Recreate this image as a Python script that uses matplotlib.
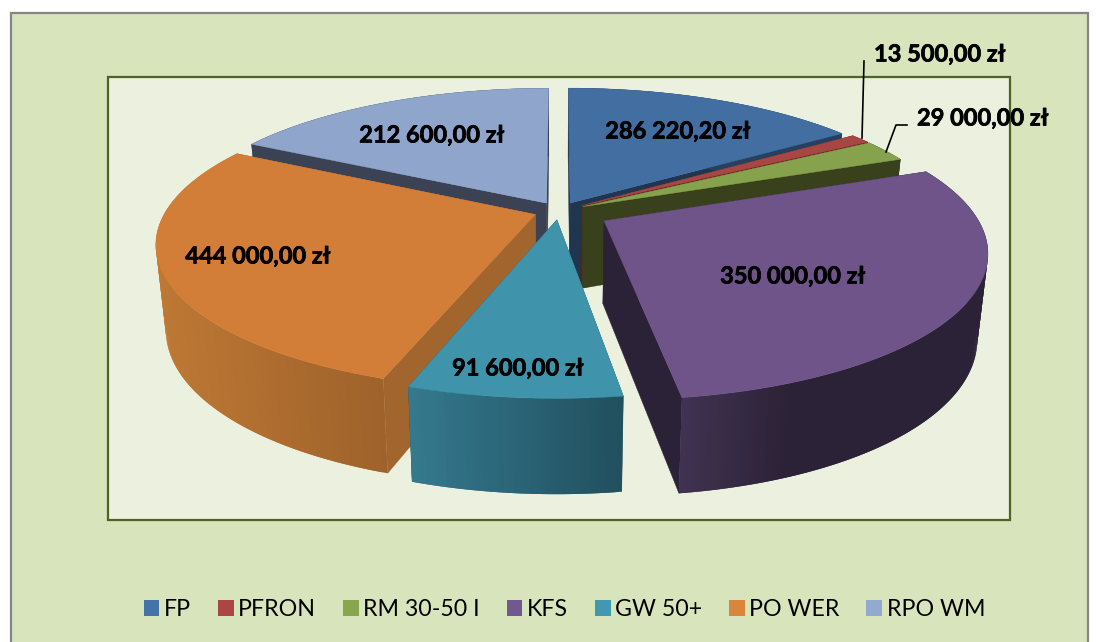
import numpy as np
import matplotlib
matplotlib.use("Agg")
import matplotlib.pyplot as plt
import matplotlib.patheffects as pe
from matplotlib.patches import Polygon, Rectangle
from matplotlib.colors import to_rgb

categories = ["FP", "PFRON", "RM 30-50 I", "KFS", "GW 50+", "PO WER", "RPO WM"]
amount_labels = ["286 220,20 zł", "13 500,00 zł", "29 000,00 zł", "350 000,00 zł",
                 "91 600,00 zł", "444 000,00 zł", "212 600,00 zł"]
# Angular sweep of each slice (degrees)
sweep_deg = [55.8, 3.8, 8.9, 103.2, 27.1, 99.2, 62.0]
explode = [0.065, 0.072, 0.072, 0.139, 0.063, 0.0685, 0.066]

top_colors = ["#426EA2", "#A84644", "#87A24C", "#6E5489", "#3F94AB", "#D37E38", "#8FA5CC"]
wall_colors = ["#1F3550", "#5A2020", "#39401C", "#2C2237", "#235362", "#A2652E", "#3B4254"]
rim_left = ["#26405F", "#5A2020", "#39401C", "#413352", "#35798E", "#BE7834", "#3B4254"]
rim_right = ["#26405F", "#5A2020", "#39401C", "#2C2237", "#214F5E", "#9E622B", "#3B4254"]
rim_span = [1, 1, 1, 0.35, 1, 1, 1]
legend_colors = ["#4572A7", "#AA4643", "#89A54E", "#71588F", "#4198AF", "#DB843D", "#93A9CF"]
label_xy = [(678, 131), (940, 54), (983, 118), (793, 276), (518, 368), (258, 256), (432, 135)]

CX, CY, A, B, K = 559.0, 211.0, 369.5, 140.0, 0.1937

def proj(X, Y):
    w = 1 + K * Y
    return CX + A * X / w, CY - B * Y / w

def proj_bottom(X, Y):
    x, y = proj(X, Y)
    return CX + (x - CX) * 0.975, y + 82 - 13 * Y

plt.rcParams['font.family'] = ['Lato', 'DejaVu Sans']
fig = plt.figure(figsize=(10.98, 6.42), dpi=100, facecolor="white")
ax = fig.add_axes([0, 0, 1, 1])
ax.set_xlim(0, 1098)
ax.set_ylim(642, 0)
ax.axis("off")

ax.add_patch(Rectangle((10.5, 12.5), 1077, 700, fc="#D8E4BC", ec="#868686", lw=1.6, zorder=0))
ax.add_patch(Rectangle((108, 76.5), 902, 443.5, fc="#EBF1DE", ec="#4F6228", lw=1.6, zorder=1))

edges = np.concatenate([[0], np.cumsum(sweep_deg)])
order = [6, 0, 1, 2, 5, 3, 4]
z = 2
for i in order:
    t0, t1 = np.radians(edges[i]), np.radians(edges[i + 1])
    mid = (t0 + t1) / 2
    ox, oy = explode[i] * np.sin(mid), explode[i] * np.cos(mid)
    th = np.linspace(t0, t1, max(int(sweep_deg[i] * 1.5), 4) + 1)
    RX, RY = ox + np.sin(th), oy + np.cos(th)
    tx, ty = proj(RX, RY)
    bx, by = proj_bottom(RX, RY)
    ax_, ay_ = proj(ox, oy)
    abx, aby = proj_bottom(ox, oy)
    # radial walls
    for j in (0, -1):
        ax.add_patch(Polygon([(ax_, ay_), (tx[j], ty[j]), (bx[j], by[j]), (abx, aby)],
                             fc=wall_colors[i], ec=wall_colors[i], lw=0.3, zorder=z))
    z += 1
    # outer rim with a left-to-right gradient; the strips overlap so no seams show
    cl, cr = np.array(to_rgb(rim_left[i])), np.array(to_rgb(rim_right[i]))
    xmin, xmax = tx.min(), tx.max()
    n = len(th) - 1
    for k in sorted(range(n), key=lambda q: -tx[q]):
        f = (0.5 * (tx[k] + tx[k + 1]) - xmin) / max(xmax - xmin, 1) / rim_span[i]
        f = min(f, 1.0)
        c = cl + (cr - cl) * f
        e = min(k + 2, n)
        s = list(range(k, e + 1))
        ax.add_patch(Polygon(np.column_stack([np.r_[tx[s], bx[s][::-1]],
                                              np.r_[ty[s], by[s][::-1]]]),
                             fc=c, ec="none", zorder=z))
    z += 1
    # top face
    ax.add_patch(Polygon(np.column_stack([np.r_[ax_, tx], np.r_[ay_, ty]]),
                         fc=top_colors[i], ec=top_colors[i], lw=0.3, zorder=z))
    z += 1

# leader lines
ax.plot([864, 862], [61, 138], color="black", lw=1.2, zorder=60)
ax.plot([907, 896, 886], [125, 125, 152], color="black", lw=1.2, zorder=60)

for txt, (x, y) in zip(amount_labels, label_xy):
    ax.text(x, y, txt, ha="center", va="center", fontsize=17, fontweight="bold",
            color="black", zorder=70,
            path_effects=[pe.withStroke(linewidth=0.5, foreground="black")])

handles = [Rectangle((0, 0), 1, 1, fc=c, ec="none") for c in legend_colors]
leg = ax.legend(handles, categories, ncol=7, frameon=False, fontsize=16.7,
                loc="center", bbox_to_anchor=(564.5 / 1098, 1 - 610 / 642),
                handlelength=0.68, handleheight=0.68, handletextpad=0.2,
                columnspacing=1.15, borderpad=0, borderaxespad=0)
leg.set_zorder(70)

fig.savefig("out.png", dpi=100, facecolor="white")
